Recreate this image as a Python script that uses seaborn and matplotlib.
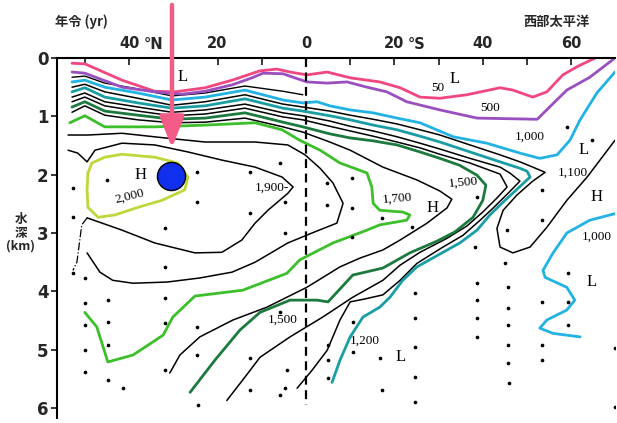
import matplotlib
matplotlib.use("Agg")
import matplotlib.pyplot as plt
import seaborn as sns

sns.set_theme(style="white")
plt.rcParams['font.family'] = ['DejaVu Sans', 'Noto Sans CJK JP']

# ---- contour lines of water age (years); latitude: north < 0 < south, depth in km ----
age50_lat = [-52.9, -50.0, -41.6, -34.2, -29.6, -22.8, -16.7, -10.4, -6.6, -3.6, 0.2, 4.8, 10.0, 16.7,
             21.3, 25.8, 30.3, 36.4, 43.9, 46.8, 51.3, 54.5, 58.1, 61.3, 65.4]
age50_dep = [0.09, 0.10, 0.38, 0.57, 0.58, 0.51, 0.38, 0.22, 0.19, 0.24, 0.29, 0.24, 0.34, 0.41,
             0.51, 0.67, 0.69, 0.63, 0.51, 0.55, 0.67, 0.58, 0.29, 0.15, 0.0]

age500_lat = [-52.9, -50.0, -41.6, -34.2, -28.0, -22.8, -16.7, -12.2, -9.7, -5.2, 0.2, 4.8, 9.3, 13.8,
              18.3, 22.8, 30.3, 38.7, 52.3, 59.0, 64.2, 69.9]
age500_dep = [0.24, 0.26, 0.50, 0.58, 0.62, 0.57, 0.46, 0.34, 0.26, 0.27, 0.41, 0.43, 0.41, 0.50,
              0.58, 0.75, 0.89, 1.03, 1.05, 0.55, 0.33, 0.0]

age700_lat = [-52.9, -50.0, -45.5, -38.0, -30.3, -22.8, -13.8, -5.2, -0.7]
age700_dep = [0.33, 0.31, 0.43, 0.53, 0.65, 0.60, 0.48, 0.57, 0.63]

age1000_lat = [-52.9, -50.0, -45.5, -38.0, -30.3, -22.8, -13.8, -5.2, -0.7, 2.5, 5.4, 10.0, 15.2, 20.6,
               25.8, 33.3, 40.9, 48.4, 52.9, 56.8, 59.7, 62.0, 65.8, 69.9]
age1000_dep = [0.41, 0.38, 0.50, 0.60, 0.72, 0.67, 0.55, 0.72, 0.77, 0.75, 0.82, 0.89, 0.94, 1.03,
               1.11, 1.35, 1.46, 1.63, 1.72, 1.66, 1.41, 1.06, 0.60, 0.24]

age1000s_lat = [70.3, 64.2, 59.0, 55.9, 53.6, 54.1, 59.0, 60.8, 59.0, 54.5, 52.9, 55.9, 62.0]
age1000s_dep = [2.66, 2.78, 3.00, 3.34, 3.64, 3.76, 3.93, 4.15, 4.32, 4.49, 4.63, 4.72, 4.78]

age1100_lat = [-52.9, -50.0, -45.5, -38.0, -30.3, -22.8, -13.8, -5.2, -0.7, 5.4, 10.0, 15.2, 20.6, 25.8,
               30.3, 37.1, 43.9, 48.4, 51.3, 54.1, 51.3, 47.7, 44.6, 43.2, 43.9, 46.8, 50.7, 54.5,
               59.0, 63.6, 66.5, 69.9]
age1100_dep = [0.50, 0.45, 0.58, 0.69, 0.81, 0.75, 0.63, 0.79, 0.84, 0.91, 0.98, 1.05, 1.13, 1.23,
               1.32, 1.49, 1.66, 1.78, 1.87, 1.96, 2.11, 2.35, 2.61, 2.92, 3.24, 3.34, 3.24, 2.90,
               2.44, 2.04, 1.75, 1.41]

age1200_lat = [-52.9, -50.0, -45.5, -38.0, -30.3, -22.8, -13.8, -5.2, -0.7, 5.4, 10.0, 15.2, 20.6, 25.8,
               30.3, 37.1, 43.9, 48.4, 50.0, 50.7, 48.0, 44.6, 41.6, 38.7, 34.8, 31.0, 25.1, 21.9,
               19.0, 16.7, 12.9, 10.0, 7.7, 5.9]
age1200_dep = [0.58, 0.51, 0.67, 0.77, 0.86, 0.82, 0.70, 0.86, 0.91, 0.99, 1.06, 1.15, 1.23, 1.34,
               1.44, 1.61, 1.78, 1.89, 1.94, 2.04, 2.23, 2.47, 2.69, 2.95, 3.17, 3.33, 3.58, 3.81,
               4.10, 4.27, 4.44, 4.78, 5.18, 5.56]

age1300_lat = [-52.9, -50.0, -45.5, -38.0, -30.3, -22.8, -13.8, -5.2, -0.7, 5.4, 10.0, 15.2, 20.6, 25.8,
               30.3, 37.1, 43.9, 46.1, 48.4, 45.7, 42.5, 39.4, 35.5, 31.0, 25.1, 21.3, 17.4, 13.3,
               10.0, 7.7, 4.8, 1.4, -2.0]
age1300_dep = [0.67, 0.60, 0.75, 0.84, 0.93, 0.89, 0.79, 0.94, 0.99, 1.08, 1.17, 1.25, 1.35, 1.46,
               1.56, 1.72, 1.87, 1.97, 2.11, 2.32, 2.56, 2.78, 3.04, 3.24, 3.52, 3.81, 4.06, 4.13,
               4.18, 4.49, 5.01, 5.35, 5.66]

age1400_lat = [-52.9, -50.0, -45.5, -38.0, -30.3, -22.8, -13.8, -5.2, -0.7, 5.4, 10.0, 15.2, 20.6, 25.8,
               30.3, 37.1, 43.9, 45.5, 43.2, 40.0, 36.4, 31.9, 25.8, 21.3, 17.4, 10.6, 3.8, -3.6,
               -10.4, -13.8, -17.9]
age1400_dep = [0.75, 0.67, 0.82, 0.91, 0.99, 0.96, 0.86, 1.01, 1.06, 1.17, 1.25, 1.34, 1.44, 1.54,
               1.65, 1.80, 1.99, 2.21, 2.40, 2.64, 2.88, 3.09, 3.33, 3.55, 3.81, 4.10, 4.44, 4.78,
               5.13, 5.47, 5.87]

age1500_lat = [-52.9, -50.0, -45.5, -38.0, -30.3, -22.8, -13.8, -5.2, -0.7, 5.4, 10.0, 15.2, 20.6, 25.8,
               30.3, 34.8, 38.7, 40.7, 40.0, 37.8, 33.7, 29.6, 23.5, 17.4, 10.6, 5.0, 2.5, -3.6,
               -10.4, -14.9, -20.6, -26.2]
age1500_dep = [0.84, 0.75, 0.91, 0.98, 1.05, 1.03, 0.94, 1.10, 1.18, 1.30, 1.37, 1.42, 1.49, 1.61,
               1.72, 1.84, 2.01, 2.18, 2.44, 2.73, 2.98, 3.14, 3.34, 3.60, 3.72, 4.18, 4.15, 4.15,
               4.36, 4.66, 5.18, 5.73]

age1600_lat = [-52.9, -50.0, -45.5, -38.0, -30.3, -22.8, -13.8, -5.2, -0.7, 5.4, 10.0, 17.4, 25.1, 30.3,
               33.0, 31.9, 27.4, 21.3, 17.4, 12.2, 7.7, 0.2, -8.8, -16.5, -24.0, -28.5, -30.8]
age1600_dep = [0.93, 0.82, 0.98, 1.06, 1.11, 1.10, 1.03, 1.18, 1.27, 1.44, 1.58, 1.87, 2.09, 2.28,
               2.42, 2.57, 2.83, 3.12, 3.29, 3.43, 3.58, 3.93, 4.27, 4.49, 4.78, 5.09, 5.40]

age1700_lat = [-53.4, -50.0, -45.5, -34.2, -22.8, -11.5, -5.4, -1.4, 3.2, 7.7, 13.8, 14.9, 15.2, 16.7,
               21.9, 23.5, 22.8, 16.7, 13.8, 6.1, -1.4, -4.3, -14.3, -25.1, -30.1, -32.3, -39.1,
               -44.8, -47.3, -50.0]
age1700_dep = [1.11, 0.99, 1.18, 1.18, 1.15, 1.11, 1.23, 1.41, 1.58, 1.80, 1.97, 2.21, 2.49, 2.61,
               2.64, 2.69, 2.78, 2.86, 2.95, 3.17, 3.46, 3.69, 3.98, 4.08, 4.44, 4.75, 5.09,
               5.21, 4.61, 4.36]

age1800_lat = [-53.8, -49.3, -41.6, -31.9, -22.8, -11.5, -4.1, -0.2, 3.2, 6.1, 8.4, 7.0, 2.0, -4.1,
               -11.5, -16.7, -24.0, -31.4, -39.1, -43.7, -46.6, -49.5]
age1800_dep = [1.32, 1.32, 1.29, 1.37, 1.44, 1.44, 1.49, 1.66, 1.89, 2.14, 2.49, 2.83, 2.98, 3.17,
               3.50, 3.67, 3.77, 3.84, 3.86, 3.81, 3.67, 3.34]

age1900_lat = [-53.8, -51.6, -49.5, -47.7, -41.6, -34.2, -26.7, -19.0, -11.5, -5.4, -2.9, -4.1, -8.6,
               -11.5, -14.5, -19.0, -25.1, -34.2, -41.6, -49.5]
age1900_dep = [1.58, 1.63, 1.78, 1.58, 1.46, 1.49, 1.61, 1.75, 1.87, 2.04, 2.21, 2.32, 2.61,
               2.83, 3.12, 3.33, 3.34, 3.17, 2.95, 2.74]

edge_lat = [-49.5, -50.7, -51.3, -51.8, -52.7]
edge_dep = [2.74, 2.86, 3.21, 3.50, 3.64]

age2000_lat = [-49.3, -48.4, -45.5, -41.6, -34.2, -29.0, -26.7, -27.4, -32.6, -38.0, -43.2, -47.0,
               -49.3, -49.5, -49.3]
age2000_dep = [1.97, 1.80, 1.70, 1.65, 1.70, 1.80, 2.04, 2.26, 2.44, 2.56, 2.69, 2.73,
               2.56, 2.26, 1.97]

# equator station line
equator_lat = [0.0, 0.0]
equator_dep = [0.0, 5.95]

# sampling stations
station_lat = [-52.7, -52.7, -52.7, -50.0, -50.0, -50.0, -50.0, -50.0, -45.0, -44.8, -44.8, -44.8, -44.8,
               -41.4, -31.9, -31.9, -31.9, -31.9, -31.9, -24.7, -24.7, -24.7, -24.7, -24.4, -12.7, -12.7,
               -12.7, -12.7, -5.9, -4.8, -4.8, -5.9, -4.3, -4.8, -5.9, 5.0, 5.0, 5.0, 4.8, 4.8, 10.4,
               10.4, 10.4, 10.6, 10.6, 17.2, 16.7, 17.2, 24.0, 24.7, 24.7, 24.7, 24.7, 24.7, 38.7, 38.2,
               38.7, 38.7, 38.7, 38.7, 45.5, 45.0, 45.7, 45.7, 45.7, 45.7, 45.7, 45.9, 53.4, 53.4, 53.4,
               53.4, 53.4, 59.3, 59.3, 59.3, 59.0, 64.7, 69.9, 69.9]
station_dep = [2.23, 2.73, 3.69, 3.77, 4.20, 4.58, 5.01, 5.39, 2.09, 4.15, 4.53, 4.92, 5.52,
               5.66, 2.92, 3.58, 4.12, 4.54, 5.35, 1.96, 2.47, 4.61, 5.09, 5.95, 1.96, 2.66,
               5.15, 5.69, 1.80, 2.47, 3.00, 4.36, 5.35, 5.66, 5.78, 4.92, 5.18, 5.49, 2.14, 2.52, 2.06,
               2.57, 3.07, 4.53, 5.04, 2.74, 5.15, 5.69, 2.90, 4.03, 4.46, 4.96, 5.47, 5.90, 2.38, 3.24,
               3.86, 4.15, 4.46, 4.78, 2.95, 3.52, 3.93, 4.29, 4.58, 4.92, 5.23, 5.57, 2.26, 2.78, 4.18,
               4.92, 5.18, 3.69, 4.18, 4.58, 1.18, 1.41, 4.97, 5.99]

# contour annotations
label_text = ["L", "L", "50", "500", "1,000", "L", "1,100", "H", "1,000", "L", "H", "1,500", "1,700",
              "1,900-", "H", "2,000", "1,500", "1,200", "L"]
label_lat = [-27.8, 33.7, 29.9, 41.6, 50.7, 62.7, 60.4, 65.8, 65.8, 64.7, 28.7, 35.5, 20.6,
             -7.7, -37.5, -39.8, -5.2, 13.3, 21.3]
label_dep = [0.33, 0.36, 0.51, 0.86, 1.35, 1.58, 1.97, 2.38, 3.07, 3.84, 2.57, 2.14, 2.40,
             2.23, 2.01, 2.37, 4.49, 4.84, 5.13]
label_rot = [0, 0, 0, 0, 0, 0, 0, 0, 0, 0, 0, 5, 5, 0, 0, 14, 0, 0, 0]

# marked site
site_lat = [-30.5]
site_dep = [2.02]
arrow_lat = -30.3
arrow_tail_dep = -0.91
arrow_tip_dep = 1.54

lat_ticks = [-50, -40, -30, -20, -10, 0, 10, 20, 30, 40, 50, 60]
lat_labels = {-40: "40", -20: "20", 0: "0", 20: "20", 40: "40", 60: "60"}
depth_ticks = [0, 1, 2, 3, 4, 5, 6]

# ---- figure ----
fig = plt.figure(figsize=(6.17, 4.23), dpi=100)
ax = fig.add_axes([57 / 617, 5 / 423, 558 / 617, 360 / 423])
ax.set_xlim(-56.3, 69.9)
ax.set_ylim(6.17, 0)

PINK = "#f2467f"
PURPLE = "#9a4fc0"
CYAN = "#22b2e4"
TEAL = "#1a9ea4"
DKGREEN = "#1d7a3e"
GREEN = "#3cbf2a"
YGREEN = "#bdd83a"


def contour(lat, dep, color, lw, ls="-"):
    sns.lineplot(x=lat, y=dep, sort=False, estimator=None, color=color,
                 linewidth=lw, linestyle=ls, ax=ax, legend=False)


contour(age700_lat, age700_dep, "black", 1.0)
contour(age1300_lat, age1300_dep, "black", 1.1)
contour(age1400_lat, age1400_dep, "black", 1.1)
contour(age1600_lat, age1600_dep, "black", 1.1)
contour(age1800_lat, age1800_dep, "black", 1.1)
contour(age1900_lat, age1900_dep, "black", 1.1)
contour(age1100_lat, age1100_dep, "black", 1.1)
contour(edge_lat, edge_dep, "black", 0.9, "-.")
contour(age50_lat, age50_dep, PINK, 2.0)
contour(age500_lat, age500_dep, PURPLE, 2.0)
contour(age1000_lat, age1000_dep, CYAN, 2.0)
contour(age1000s_lat, age1000s_dep, CYAN, 2.0)
contour(age1200_lat, age1200_dep, TEAL, 2.0)
contour(age1500_lat, age1500_dep, DKGREEN, 2.0)
contour(age1700_lat, age1700_dep, GREEN, 2.0)
contour(age2000_lat, age2000_dep, YGREEN, 2.0)

sns.lineplot(x=equator_lat, y=equator_dep, estimator=None, sort=False, color="black",
             linewidth=1.6, linestyle=(0, (4, 2.5)), ax=ax, legend=False)

sns.scatterplot(x=station_lat, y=station_dep, color="black", s=7, linewidth=0, ax=ax,
                legend=False, zorder=3)

for txt, la, de, rot in zip(label_text, label_lat, label_dep, label_rot):
    big = txt in ("H", "L")
    ax.text(la, de, txt, family="Liberation Serif", fontsize=12 if big else 9.5,
            ha="center", va="center", rotation=rot, color="black", zorder=5)

sns.scatterplot(x=site_lat, y=site_dep, s=410, color="#1030ee", edgecolor="black",
                linewidth=1.0, ax=ax, legend=False, zorder=7)

ax.annotate("", xy=(arrow_lat, arrow_tip_dep), xytext=(arrow_lat, arrow_tail_dep),
            xycoords="data", textcoords="data", annotation_clip=False,
            arrowprops=dict(arrowstyle="-|>,head_length=1.9,head_width=0.75",
                            mutation_scale=10, color="#f25c86", lw=3.2,
                            shrinkA=0, shrinkB=0), zorder=8)

# axes frame: top and left only
for side in ("right", "bottom"):
    ax.spines[side].set_visible(False)
for side in ("top", "left"):
    ax.spines[side].set_color("black")
    ax.spines[side].set_linewidth(1.5)

ax.xaxis.tick_top()
ax.set_xticks(lat_ticks)
ax.set_xticklabels([lat_labels.get(t, "") for t in lat_ticks], fontsize=10.5,
                   fontweight="bold", family="DejaVu Sans")
ax.tick_params(axis="x", direction="in", length=5, width=1.3, pad=5, top=True, bottom=False)
ax.set_yticks(depth_ticks)
ax.set_yticklabels([str(d) for d in depth_ticks], fontsize=12, fontweight="bold")
ax.tick_params(axis="y", direction="out", length=4, width=1.3, pad=2, left=True)
ax.set_xlabel("")
ax.set_ylabel("")
ax.grid(False)

ax.text(-34.5, 1.018, "°N", transform=ax.get_xaxis_transform(), fontsize=10.5,
        fontweight="bold", ha="center", va="bottom")
ax.text(25.0, 1.018, "°S", transform=ax.get_xaxis_transform(), fontsize=10.5,
        fontweight="bold", ha="center", va="bottom")

fig.text(55 / 617, 1 - 22 / 423, "年令 (yr)", fontsize=9.5, fontweight="bold",
         family=["Noto Sans CJK JP", "DejaVu Sans"], ha="left", va="center")
fig.text(590 / 617, 1 - 22 / 423, "西部太平洋", fontsize=9.5, fontweight="bold",
         family=["Noto Sans CJK JP", "DejaVu Sans"], ha="right", va="center")
fig.text(21 / 617, 1 - 233 / 423, "水\n深\n(km)", fontsize=9, fontweight="bold",
         family=["Noto Sans CJK JP", "DejaVu Sans"], ha="center", va="center",
         multialignment="center", linespacing=1.05)

fig.savefig("out.png", dpi=100, facecolor="white")
